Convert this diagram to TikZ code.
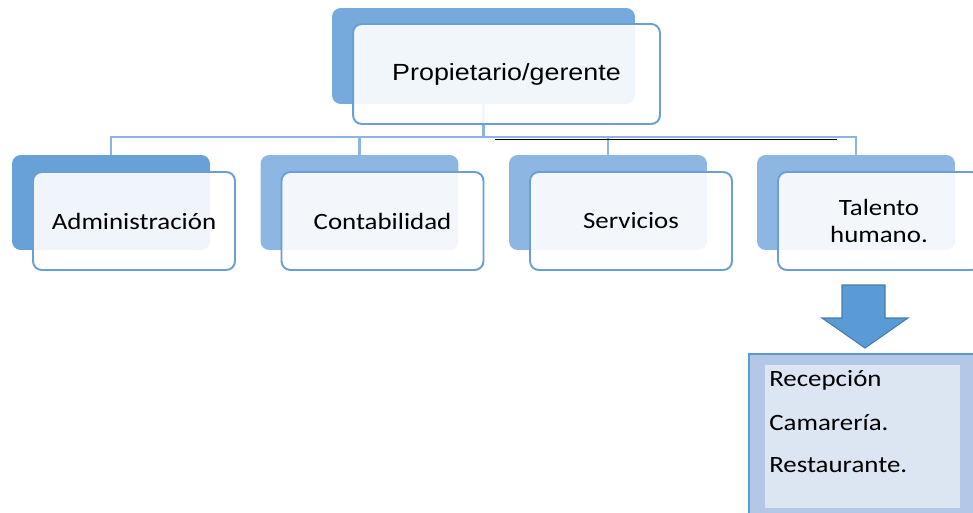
\documentclass[tikz,border=0pt]{standalone}
\usepackage{fontspec}
\setmainfont{Carlito}[FakeStretch=1.15]
\newfontfamily\arialfont{Liberation Sans}[FakeStretch=1.15]
\usepackage{tikz}
\usetikzlibrary{positioning}
\definecolor{backtop}{HTML}{76AADC}
\definecolor{backdark}{HTML}{68A0D8}
\definecolor{backlight}{HTML}{8DB6E2}
\definecolor{frameblue}{HTML}{6A9FD4}
\definecolor{linkblue}{HTML}{8EB4E3}
\definecolor{arrowblue}{HTML}{5B9BD5}
\definecolor{listout}{HTML}{B4C7E7}
\definecolor{listin}{HTML}{DCE6F2}

\begin{document}
\begin{tikzpicture}[x=0.02cm,y=-0.02cm,
    back/.style={rectangle, rounded corners=5pt, fill=#1, minimum width=3.96cm, minimum height=1.9cm},
    front/.style={rectangle, rounded corners=5pt, draw=frameblue, line width=1.1pt, fill=white, fill opacity=0.9, text opacity=1, minimum width=4.04cm, minimum height=1.96cm, font=\fontsize{13.3}{15.3}\selectfont, align=center},
    link/.style={draw=linkblue, line width=1.3pt}]
    \useasboundingbox (0,0) rectangle (973,513);
    % boxes behind
    \node[back=backtop, minimum width=6.06cm, minimum height=1.92cm] (Pb) at (483.5,56) {};
    \node[back=backdark]  (Ab) at (111,202.5) {};
    \node[back=backlight] (Cb) at (359.5,202.5) {};
    \node[back=backlight] (Sb) at (608,202.5) {};
    \node[back=backlight] (Tb) at (856,202.5) {};
    % connectors
    \coordinate (bar) at (483.5,137);
    \path[link] (Pb.south) -- (bar)
        (Ab.north) |- (bar) -| (Tb.north)
        (Cb.north) -- (Cb.north |- bar)
        (Sb.north) -- (Sb.north |- bar);
    \coordinate (k1) at (495,139.5);
    \coordinate (k2) at (837,139.5);
    \draw[black, line width=0.5pt] (k1) -- (k2);
    % boxes in front
    \node[front, minimum width=6.14cm, minimum height=2cm, font=\arialfont\fontsize{13.3}{16}\selectfont] (P) at (506.5,74) {Propietario/gerente};
    \node[front] (A) at (134,221) {Administración};
    \node[front] (C) at (382.5,221) {Contabilidad};
    \node[front] (S) at (631,221) {Servicios};
    \node[front] (T) at (879,221) {Talento\\humano.};
    % arrow down to the list
    \coordinate (tip) at (865,348);
    \draw[fill=arrowblue, draw=arrowblue!80!black, line width=0.6pt]
        (tip) -- ++(-43,-30) -- ++(20,0) -- ++(0,-33) -- ++(43,0)
        -- ++(0,33) -- ++(23,0) -- cycle;
    % list under Talento humano
    \node[rectangle, draw=arrowblue, line width=1.2pt, fill=listout, anchor=north west, minimum width=5cm, minimum height=3.6cm] (L) at (748,353) {};
    \node[rectangle, fill=listin, anchor=north west, minimum width=3.9cm, minimum height=2.86cm] (Li) at (765,365) {};
    \node[anchor=west, font=\fontsize{13.3}{15}\selectfont, inner sep=0pt] (r1) at (769,380) {Recepción};
    \node[anchor=west, font=\fontsize{13.3}{15}\selectfont, inner sep=0pt] (r2) at (769,423) {Camarería.};
    \node[anchor=west, font=\fontsize{13.3}{15}\selectfont, inner sep=0pt] (r3) at (769,465) {Restaurante.};
\end{tikzpicture}
\end{document}
